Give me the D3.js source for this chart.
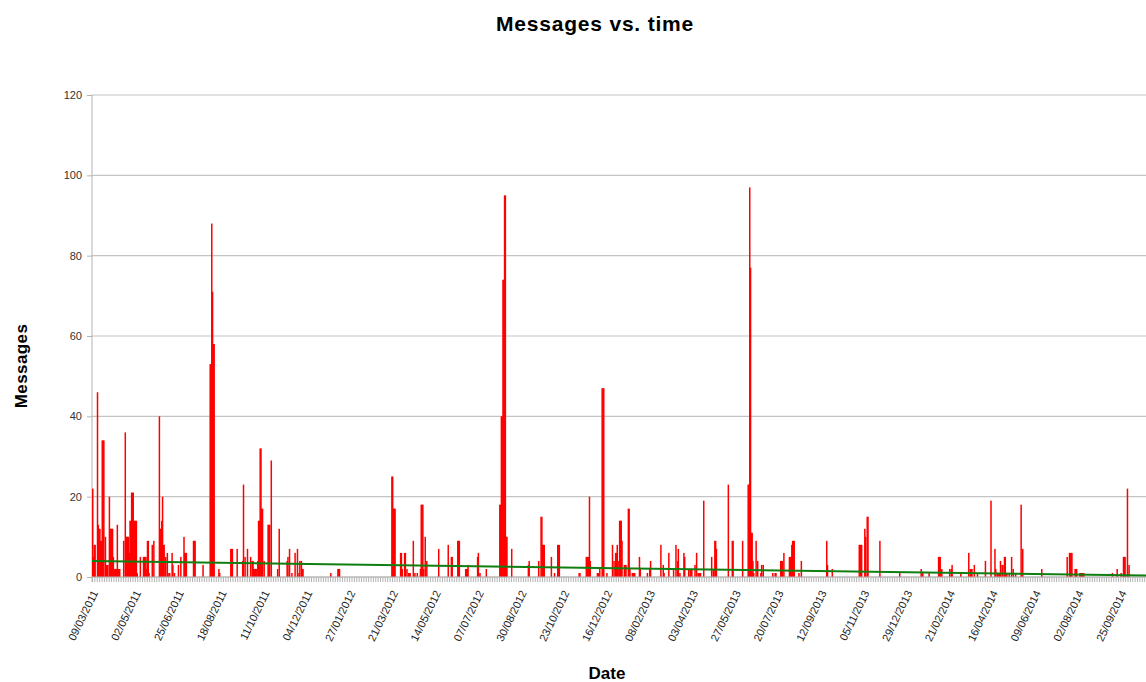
<!DOCTYPE html>
<html><head><meta charset="utf-8">
<script src="https://cdn.jsdelivr.net/npm/d3@7"></script>
<style>body{margin:0;background:#fff}svg{display:block;font-family:"Liberation Sans",Arial,sans-serif}</style>
</head><body>
<svg id="chart" width="1146" height="682"></svg>
<script>
// ---- data ----
const START_DATE = "2011-03-09";
const dayOffsets = [0,1,2,3,6,7,8,9,10,11,12,13,14,16,17,18,19,21,22,23,24,25,26,27,28,29,30,31,32,33,34,39,41,42,43,44,45,46,47,48,49,50,51,52,53,54,55,56,60,64,65,66,67,68,69,70,71,75,77,84,85,86,87,88,89,90,92,94,96,97,100,101,103,108,111,115,116,117,118,127,128,129,139,148,149,150,151,152,153,159,160,174,175,176,182,189,190,192,195,199,201,202,203,204,205,206,208,209,210,211,212,213,214,216,221,222,223,225,233,235,245,246,248,251,255,258,260,261,263,264,265,300,309,310,311,377,378,379,380,381,388,389,390,393,394,396,398,399,400,404,406,409,413,414,415,416,417,419,421,436,448,452,453,460,461,462,470,471,472,473,485,486,488,496,513,514,515,516,517,518,519,520,521,522,528,549,550,562,565,566,567,568,569,578,582,586,587,588,613,614,622,623,624,625,626,627,636,637,639,642,643,644,648,655,657,659,660,661,663,664,665,666,667,670,671,672,675,676,677,680,681,682,683,689,690,699,702,703,716,719,720,726,732,735,737,738,740,745,746,751,753,754,755,759,761,763,764,765,766,770,780,782,784,785,786,801,806,807,819,826,827,828,829,830,831,832,833,836,838,842,843,845,857,860,861,867,868,869,871,878,879,880,881,882,883,884,890,893,925,926,932,966,967,968,969,973,974,976,977,992,1017,1044,1046,1054,1066,1067,1068,1070,1080,1082,1083,1094,1104,1106,1107,1108,1111,1115,1125,1132,1137,1138,1140,1141,1142,1143,1144,1146,1147,1149,1150,1152,1155,1158,1160,1163,1170,1172,1196,1228,1231,1232,1233,1234,1238,1239,1240,1244,1245,1246,1247,1248,1249,1285,1291,1296,1299,1300,1301,1304,1306];
const messageCounts = [22,5,8,8,46,13,12,12,9,9,34,34,34,10,3,3,3,20,12,12,12,12,5,2,2,2,2,13,2,2,2,9,36,10,10,10,10,6,14,14,21,21,21,14,14,14,14,1,5,5,5,5,5,2,9,9,1,8,9,40,12,12,14,20,8,8,5,6,1,1,6,3,1,3,5,10,6,6,6,9,9,9,3,53,53,88,71,58,58,2,1,7,7,7,7,4,23,5,7,5,4,4,2,2,2,2,4,14,14,32,32,17,17,4,13,13,13,29,2,12,4,5,7,1,6,7,1,4,4,2,2,1,2,2,2,25,25,17,17,17,6,6,2,6,6,2,1,1,1,9,1,1,2,18,18,18,2,10,4,7,8,5,5,9,9,9,2,2,2,3,5,6,1,2,18,18,40,40,74,74,95,95,10,10,7,3,4,4,15,15,8,8,8,5,1,8,8,8,1,1,5,5,5,5,20,4,1,1,2,47,47,47,1,8,4,6,6,8,4,14,14,14,9,3,3,3,17,17,2,1,1,1,1,5,2,1,2,4,8,3,1,6,2,8,4,7,1,6,5,2,2,2,2,3,6,1,1,1,1,19,5,2,9,9,7,23,9,9,9,23,23,97,77,11,11,4,1,9,4,1,3,3,1,1,1,4,4,4,6,5,5,5,8,9,9,9,1,4,9,3,2,8,8,8,8,12,10,15,15,9,1,2,1,1,5,5,5,2,2,2,3,1,6,2,2,2,3,1,4,19,7,2,1,1,1,1,4,3,3,5,5,1,1,5,2,1,18,7,2,5,6,6,6,6,2,2,2,1,1,1,1,1,1,1,2,1,5,5,5,22,3];
const yTicks = [0, 20, 40, 60, 80, 100, 120];
const xTickLabels = ["09/03/2011","02/05/2011","25/06/2011","18/08/2011","11/10/2011","04/12/2011","27/01/2012","21/03/2012","14/05/2012","07/07/2012","30/08/2012","23/10/2012","16/12/2012","08/02/2013","03/04/2013","27/05/2013","20/07/2013","12/09/2013","05/11/2013","29/12/2013","21/02/2014","16/04/2014","09/06/2014","02/08/2014","25/09/2014"];
const trendDays = [0, 1340];
const trendValues = [4.0, 0.33];
const TOTAL_DAYS = 1340;

// ---- layout ----
const W = 1146, H = 682;
const plotLeft = 92, plotTop = 95, plotBottom = 577;
const dayPx = 0.7935;
const barW = 1.5;
const svg = d3.select("#chart");

const parseISO = d3.utcParse("%Y-%m-%d");
const parseDMY = d3.utcParse("%d/%m/%Y");
const start = parseISO(START_DATE);
const end = d3.utcDay.offset(start, TOTAL_DAYS);

const x = d3.scaleUtc().domain([start, end]).range([plotLeft, plotLeft + TOTAL_DAYS * dayPx]);
const y = d3.scaleLinear().domain([0, 120]).range([plotBottom, plotTop]);

const n = Math.min(dayOffsets.length, messageCounts.length);
const data = d3.range(n).map(i => ({date: d3.utcDay.offset(start, dayOffsets[i]), v: messageCounts[i]}));

// gridlines
svg.append("g").selectAll("line").data(yTicks).join("line")
  .attr("x1", plotLeft).attr("x2", W).attr("y1", d => y(d)).attr("y2", d => y(d))
  .attr("stroke", "#c4c4c4").attr("stroke-width", 1.2);

// y axis
const yAxis = svg.append("g").attr("transform", `translate(${plotLeft},0)`)
  .call(d3.axisLeft(y).tickValues(yTicks).tickSize(5).tickPadding(5));
yAxis.select(".domain").attr("stroke", "#b3b3b3").attr("d", `M0,${plotTop}V${plotBottom + 5}`);
yAxis.selectAll(".tick line").attr("stroke", "#b3b3b3");
yAxis.selectAll("text").attr("font-size", 11).attr("fill", "#333").attr("font-family", "Liberation Sans, Arial, sans-serif");

// bars
svg.append("g").selectAll("rect").data(data).join("rect")
  .attr("x", d => x(d.date))
  .attr("width", barW)
  .attr("y", d => y(d.v))
  .attr("height", d => y(0) - y(d.v))
  .attr("fill", "#ff0000");

// x axis (minor ticks)
const xAxis = svg.append("g").attr("transform", `translate(0,${plotBottom})`)
  .call(d3.axisBottom(x).tickValues(d3.utcDay.range(start, end, 3)).tickSize(5).tickFormat(""));
xAxis.select(".domain").attr("stroke", "#b3b3b3").attr("d", `M${plotLeft},0H${W}`);
xAxis.selectAll(".tick line").attr("stroke", "#b3b3b3");

// trend line
const trend = trendDays.map((d, i) => ({date: d3.utcDay.offset(start, d), v: trendValues[i]}));
svg.append("path").datum(trend)
  .attr("d", d3.line().x(d => x(d.date)).y(d => y(d.v)))
  .attr("stroke", "#0f7f0f").attr("stroke-width", 2).attr("fill", "none");

// x labels
svg.append("g").selectAll("text").data(xTickLabels).join("text")
  .attr("transform", d => `translate(${x(parseDMY(d)) + 3},${plotBottom + 14}) rotate(-64)`)
  .attr("text-anchor", "end").attr("dy", "0.35em")
  .attr("font-size", 11).attr("fill", "#222")
  .text(d => d);

// titles
svg.append("text").attr("x", 595).attr("y", 31).attr("text-anchor", "middle")
  .attr("font-size", 21).attr("font-weight", "bold").attr("fill", "#000")
  .attr("letter-spacing", 0.8)
  .text("Messages vs. time");
svg.append("text").attr("transform", "translate(27,366) rotate(-90)").attr("text-anchor", "middle")
  .attr("font-size", 17).attr("font-weight", "bold").attr("fill", "#000")
  .attr("letter-spacing", 0.4)
  .text("Messages");
svg.append("text").attr("x", 607).attr("y", 679).attr("text-anchor", "middle")
  .attr("font-size", 17).attr("font-weight", "bold").attr("fill", "#000")
  .text("Date");
</script>
</body></html>
